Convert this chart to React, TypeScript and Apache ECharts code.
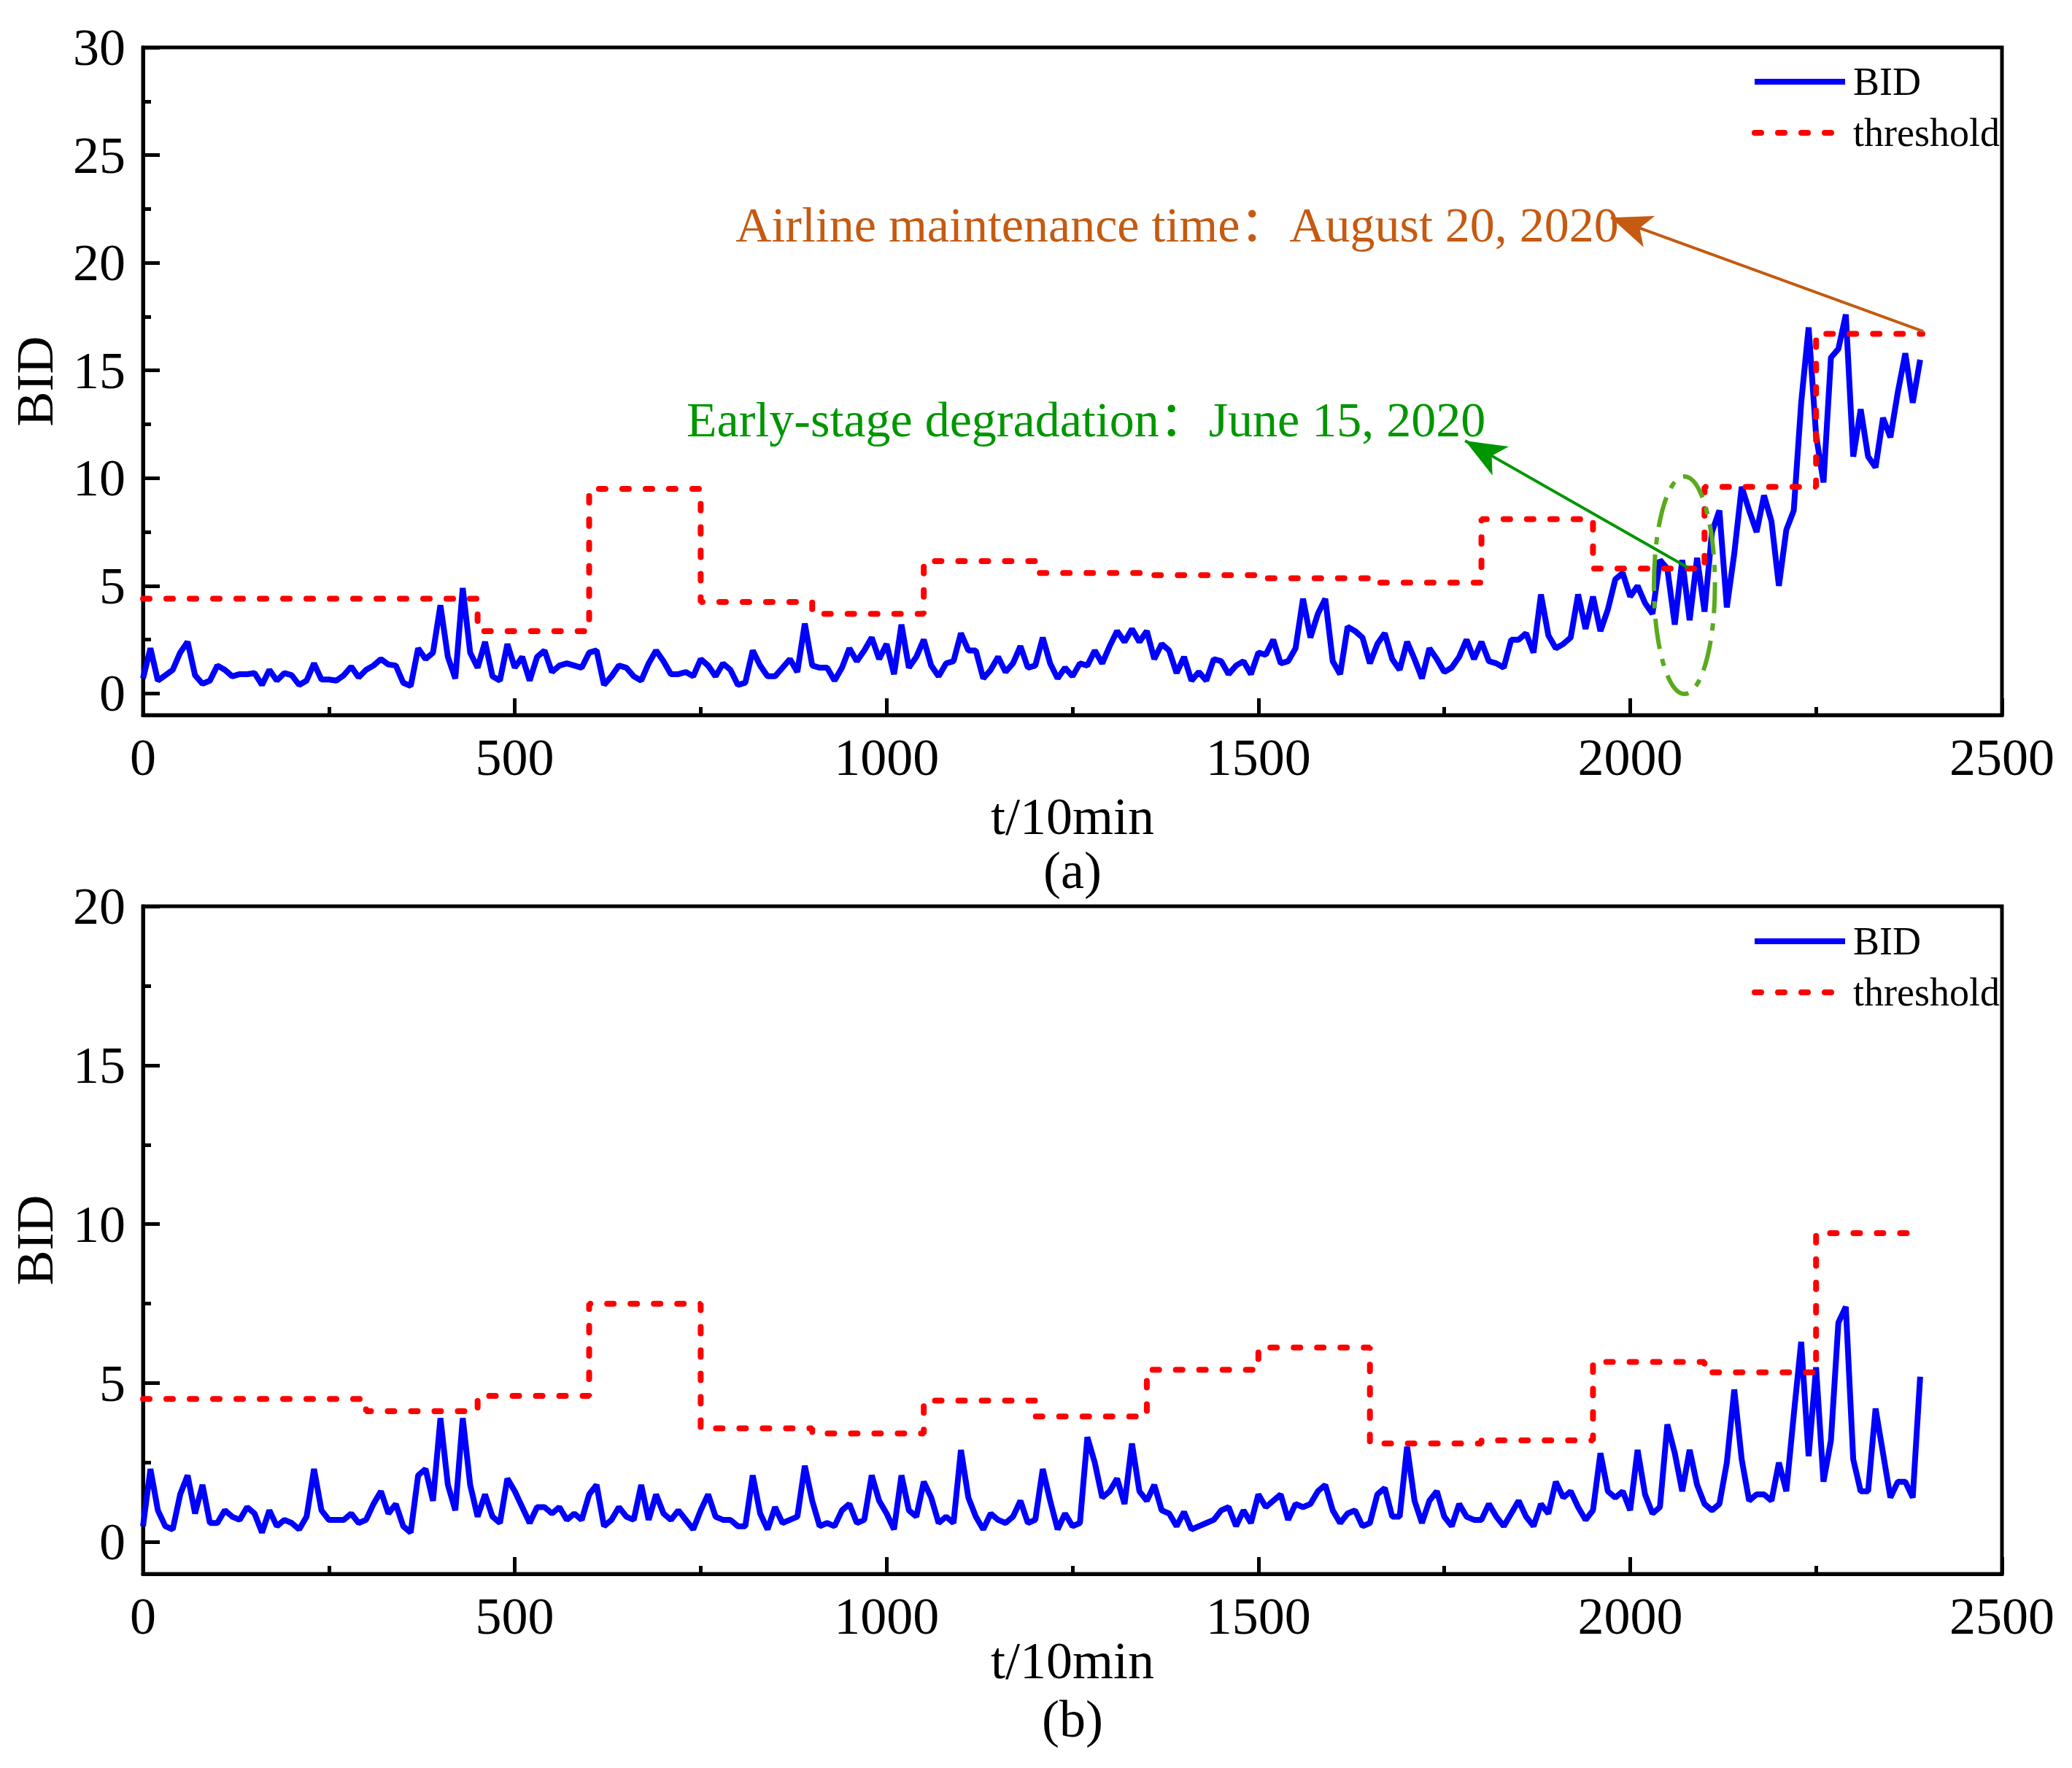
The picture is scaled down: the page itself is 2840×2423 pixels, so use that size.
import React, { useEffect, useRef } from 'react';
import * as echarts from 'echarts';

const FONT = '"Liberation Serif", "Times New Roman", "Noto Sans CJK SC", serif';

// samples every 10 min-steps, starting at t = 0
const timeStep = 10;

const bidTop = [
  0.7, 2.1, 0.6, 0.85, 1.1, 1.9, 2.4, 0.85, 0.45, 0.6,
  1.3, 1.1, 0.8, 0.9, 0.9, 0.95, 0.4, 1.1, 0.6, 0.95,
  0.85, 0.4, 0.6, 1.4, 0.65, 0.65, 0.6, 0.85, 1.25, 0.75,
  1.1, 1.3, 1.6, 1.35, 1.3, 0.5, 0.35, 2.1, 1.6, 1.9,
  4.1, 1.7, 0.7, 4.9, 1.9, 1.2, 2.4, 0.8, 0.6, 2.3,
  1.2, 1.7, 0.6, 1.7, 2.0, 1.0, 1.3, 1.4, 1.3, 1.2,
  1.9, 2.0, 0.4, 0.8, 1.3, 1.2, 0.8, 0.6, 1.4, 2.0,
  1.5, 0.9, 0.9, 1.0, 0.8, 1.6, 1.3, 0.8, 1.4, 1.1,
  0.4, 0.5, 2.0, 1.3, 0.8, 0.8, 1.2, 1.6, 1.0, 3.25,
  1.3, 1.2, 1.2, 0.6, 1.2, 2.1, 1.5, 2.0, 2.6, 1.6,
  2.3, 0.9, 3.2, 1.2, 1.7, 2.5, 1.3, 0.8, 1.4, 1.5,
  2.8, 2.0, 2.0, 0.7, 1.1, 1.7, 1.0, 1.4, 2.2, 1.2,
  1.3, 2.6, 1.4, 0.7, 1.2, 0.8, 1.4, 1.3, 2.0, 1.4,
  2.2, 2.9, 2.4, 3.0, 2.4, 2.9, 1.6, 2.3, 2.0, 0.95,
  1.7, 0.6, 1.0, 0.6, 1.6, 1.5, 0.9, 1.3, 1.5, 0.9,
  1.9, 1.8, 2.5, 1.4, 1.5, 2.1, 4.4, 2.6, 3.7, 4.4,
  1.5, 0.9, 3.1, 2.9, 2.6, 1.4, 2.3, 2.8, 1.6, 1.1,
  2.4, 1.6, 0.7, 2.1, 1.6, 1.0, 1.2, 1.7, 2.5, 1.6,
  2.4, 1.5, 1.4, 1.2, 2.5, 2.5, 2.8, 1.9, 4.6, 2.7,
  2.1, 2.3, 2.6, 4.6, 3.0, 4.5, 2.9, 3.9, 5.3, 5.6,
  4.5, 5.0, 4.2, 3.7, 6.2, 5.8, 3.2, 6.2, 3.4, 6.3,
  3.8, 7.5, 8.5, 4.0, 6.5, 9.6, 8.5, 7.5, 9.2, 8.0,
  5.0, 7.6, 8.5, 13.5, 17.0, 12.0, 9.8, 15.6, 16.0, 17.6,
  11.0, 13.2, 11.0, 10.5, 12.8, 11.9, 14.0, 15.8, 13.5, 15.5,
];

const bidBottom = [
  0.5, 2.3, 1.0, 0.5, 0.4, 1.5, 2.1, 0.9, 1.8, 0.6,
  0.6, 1.0, 0.8, 0.7, 1.1, 0.9, 0.3, 1.0, 0.5, 0.7,
  0.6, 0.4, 0.8, 2.3, 1.0, 0.7, 0.7, 0.7, 0.9, 0.6,
  0.7, 1.2, 1.6, 0.9, 1.2, 0.5, 0.3, 2.1, 2.3, 1.3,
  3.9, 1.8, 1.0, 3.9, 1.8, 0.8, 1.5, 0.8, 0.6, 2.0,
  1.6, 1.1, 0.6, 1.1, 1.1, 0.9, 1.1, 0.7, 0.9, 0.7,
  1.5, 1.8, 0.5, 0.7, 1.1, 0.8, 0.7, 1.8, 0.7, 1.5,
  0.9, 0.7, 1.0, 0.7, 0.4, 1.0, 1.5, 0.8, 0.7, 0.7,
  0.5, 0.5, 2.1, 0.9, 0.4, 1.1, 0.6, 0.7, 0.8, 2.4,
  1.3, 0.5, 0.6, 0.5, 1.0, 1.2, 0.6, 0.7, 2.1, 1.3,
  0.9, 0.4, 2.1, 1.0, 0.8, 1.9, 1.4, 0.6, 0.8, 0.6,
  2.9, 1.4, 0.8, 0.4, 0.9, 0.7, 0.6, 0.8, 1.3, 0.6,
  0.7, 2.3, 1.3, 0.4, 0.9, 0.5, 0.6, 3.3, 2.5, 1.4,
  1.6, 2.0, 1.2, 3.1, 1.6, 1.3, 1.8, 1.0, 0.9, 0.5,
  0.95, 0.4, 0.5, 0.6, 0.7, 1.0, 1.1, 0.5, 1.0, 0.6,
  1.5, 1.1, 1.3, 1.5, 0.7, 1.2, 1.1, 1.2, 1.6, 1.8,
  1.0, 0.6, 0.9, 1.0, 0.5, 0.6, 1.5, 1.7, 0.8, 0.8,
  3.0, 1.3, 0.6, 1.3, 1.6, 0.8, 0.5, 1.2, 0.8, 0.7,
  0.7, 1.2, 0.8, 0.5, 0.9, 1.3, 0.8, 0.5, 1.2, 0.9,
  1.9, 1.4, 1.6, 1.1, 0.7, 1.0, 2.8, 1.6, 1.4, 1.6,
  1.0, 2.9, 1.5, 0.9, 1.1, 3.7, 2.8, 1.6, 2.9, 1.8,
  1.2, 1.0, 1.2, 2.5, 4.8, 2.6, 1.3, 1.5, 1.5, 1.3,
  2.5, 1.6, 4.0, 6.3, 2.7, 5.5, 1.9, 3.2, 6.9, 7.4,
  2.6, 1.6, 1.6, 4.2, 2.8, 1.4, 1.9, 1.9, 1.4, 5.2,
];

// threshold is piecewise constant: level i holds from breaks[i] to breaks[i + 1]
const thrTopBreaks = [0, 450, 600, 750, 900, 1050, 1200, 1350, 1500, 1650, 1800, 1950, 2100, 2250, 2393];
const thrTopLevels = [4.4, 2.9, 9.5, 4.25, 3.7, 6.15, 5.6, 5.5, 5.35, 5.15, 8.1, 5.8, 9.6, 16.7];
const thrBottomBreaks = [0, 300, 450, 600, 750, 900, 1050, 1200, 1350, 1500, 1650, 1800, 1950, 2100, 2250, 2380];
const thrBottomLevels = [4.5, 4.12, 4.6, 7.5, 3.58, 3.42, 4.45, 3.95, 5.42, 6.12, 3.1, 3.2, 5.67, 5.34, 9.72];

const yTopTicks = [0, 5, 10, 15, 20, 25, 30];
const yTopMinor = [2.5, 7.5, 12.5, 17.5, 22.5, 27.5];
const yBottomTicks = [0, 5, 10, 15, 20];
const yBottomMinor = [2.5, 7.5, 12.5, 17.5];

const toPoints = (vals: number[]) => vals.map((v, i) => [i * timeStep, v]);
const toSteps = (breaks: number[], levels: number[]) =>
  levels.flatMap((lv, i) => [[breaks[i], lv], [breaks[i + 1], lv]]);

const BLACK = '#000';
const ORANGE = '#C55A11';
const GREEN = '#009600';
const ELLIPSE_GREEN = '#5AAA1E';
const AXIS_W = 5;

const xAxisBase = (gridIndex: number, nameGap: number) => ({
  gridIndex,
  type: 'value',
  min: 0,
  max: 2500,
  interval: 500,
  name: 't/10min',
  nameLocation: 'middle',
  nameGap,
  nameMoveOverlap: false,
  nameTextStyle: { fontFamily: FONT, fontSize: 72, color: BLACK },
  axisLine: { show: true, onZero: false, lineStyle: { color: BLACK, width: AXIS_W } },
  axisTick: { show: true, inside: true, length: 23, lineStyle: { color: BLACK, width: AXIS_W } },
  minorTick: { show: true, splitNumber: 2, length: 11, lineStyle: { color: BLACK, width: AXIS_W } },
  axisLabel: { margin: 22, fontFamily: FONT, fontSize: 72, color: BLACK, formatter: (v: number) => String(v) },
  splitLine: { show: false },
});

const yAxisMain = (gridIndex: number, max: number, ticks: number[]) => ({
  gridIndex,
  type: 'value',
  min: -1,
  max,
  name: 'BID',
  nameLocation: 'middle',
  nameGap: 112,
  nameMoveOverlap: false,
  nameTextStyle: { fontFamily: FONT, fontSize: 72, color: BLACK },
  axisLine: { show: true, onZero: false, lineStyle: { color: BLACK, width: AXIS_W } },
  axisTick: { show: true, inside: true, length: 23, customValues: ticks, lineStyle: { color: BLACK, width: AXIS_W } },
  axisLabel: { customValues: ticks, margin: 24, fontFamily: FONT, fontSize: 72, color: BLACK },
  splitLine: { show: false },
});

const yAxisMinor = (gridIndex: number, max: number, ticks: number[]) => ({
  gridIndex,
  type: 'value',
  min: -1,
  max,
  position: 'left',
  axisLine: { show: false },
  axisTick: { show: true, inside: true, length: 11, customValues: ticks, lineStyle: { color: BLACK, width: AXIS_W } },
  axisLabel: { show: false },
  splitLine: { show: false },
});

const legendBase = (top: number) => ({
  orient: 'vertical',
  left: 2396,
  top,
  itemWidth: 124,
  itemHeight: 2,
  itemGap: 12,
  data: ['BID', 'threshold'],
  itemStyle: { opacity: 0 },
  lineStyle: { width: 8 },
  textStyle: { fontFamily: FONT, fontSize: 54, color: BLACK, lineHeight: 58, padding: [0, 0, 0, 6] },
});

const App: React.FC = () => {
  const chartRef = useRef<HTMLDivElement>(null);

  useEffect(() => {
    if (!chartRef.current) return;
    const chart = echarts.init(chartRef.current, null, { renderer: 'svg' });

    const bidStyle = () => ({ color: '#0000FF', width: 8 });
    const thrStyle = () => ({ color: '#FF0000', width: 8, type: [9, 23], cap: 'round' });

    const option = {
      animation: false,
      backgroundColor: '#fff',
      grid: [
        { left: 196, top: 65, width: 2548, height: 915, show: true, borderColor: BLACK, borderWidth: AXIS_W },
        { left: 196, top: 1242, width: 2548, height: 915, show: true, borderColor: BLACK, borderWidth: AXIS_W },
      ],
      legend: [legendBase(78), legendBase(1256)],
      xAxis: [xAxisBase(0, 103), xAxisBase(1, 83)],
      yAxis: [
        yAxisMain(0, 30, yTopTicks),
        yAxisMinor(0, 30, yTopMinor),
        yAxisMain(1, 20, yBottomTicks),
        yAxisMinor(1, 20, yBottomMinor),
      ],
      series: [
        {
          name: 'BID', type: 'line', xAxisIndex: 0, yAxisIndex: 0,
          data: toPoints(bidTop), showSymbol: false, symbol: 'none', lineStyle: bidStyle(), itemStyle: { color: '#0000FF' },
        },
        {
          name: 'threshold', type: 'line', xAxisIndex: 0, yAxisIndex: 0,
          data: toSteps(thrTopBreaks, thrTopLevels), showSymbol: false, symbol: 'none',
          lineStyle: thrStyle(), itemStyle: { color: '#FF0000' },
          markLine: {
            silent: true,
            symbol: ['none', 'arrow'],
            symbolSize: [34, 56],
            label: { show: false },
            data: [
              [
                { coord: [2394, 16.82], lineStyle: { color: ORANGE, width: 4, type: 'solid' }, itemStyle: { color: ORANGE } },
                { coord: [1974, 22.1], lineStyle: { color: ORANGE, width: 4, type: 'solid' }, itemStyle: { color: ORANGE } },
              ],
              [
                { coord: [2078, 5.84], lineStyle: { color: GREEN, width: 4, type: 'solid' }, itemStyle: { color: GREEN } },
                { coord: [1778, 11.74], lineStyle: { color: GREEN, width: 4, type: 'solid' }, itemStyle: { color: GREEN } },
              ],
            ],
          },
        },
        {
          name: 'BID', type: 'line', xAxisIndex: 1, yAxisIndex: 2,
          data: toPoints(bidBottom), showSymbol: false, symbol: 'none', lineStyle: bidStyle(), itemStyle: { color: '#0000FF' },
        },
        {
          name: 'threshold', type: 'line', xAxisIndex: 1, yAxisIndex: 2,
          data: toSteps(thrBottomBreaks, thrBottomLevels), showSymbol: false, symbol: 'none',
          lineStyle: thrStyle(), itemStyle: { color: '#FF0000' },
        },
      ],
    };

    chart.setOption(option as any);

    // annotations positioned from data coordinates
    const top = (p: number[]) => chart.convertToPixel({ xAxisIndex: 0, yAxisIndex: 0 }, p) as number[];
    const orangePos = top([797, 21.76]);
    const greenPos = top([731, 12.72]);
    const ellC = top([2073, 5.03]);
    const ellEdge = top([2073 + 41, 5.03 + 5.05]);
    const midX = top([1250, 0])[0];

    chart.setOption({
      graphic: [
        {
          type: 'text', z: 100, x: orangePos[0], y: orangePos[1],
          style: {
            text: 'Airline maintenance time：August 20, 2020', fill: ORANGE,
            font: `68px ${FONT}`, align: 'left', verticalAlign: 'middle',
          },
        },
        {
          type: 'text', z: 100, x: greenPos[0], y: greenPos[1],
          style: {
            text: 'Early-stage degradation：June 15, 2020', fill: GREEN,
            font: `68px ${FONT}`, align: 'left', verticalAlign: 'middle',
          },
        },
        {
          type: 'ellipse', z: 100, x: ellC[0], y: ellC[1],
          shape: { cx: 0, cy: 0, rx: Math.abs(ellEdge[0] - ellC[0]), ry: Math.abs(ellC[1] - ellEdge[1]) },
          style: { fill: 'none', stroke: ELLIPSE_GREEN, lineWidth: 6, lineDash: [42, 14, 10, 14] },
        },
        {
          type: 'text', z: 100, x: midX, y: 1193,
          style: { text: '(a)', fill: BLACK, font: `72px ${FONT}`, align: 'center', verticalAlign: 'middle' },
        },
        {
          type: 'text', z: 100, x: midX, y: 2356,
          style: { text: '(b)', fill: BLACK, font: `72px ${FONT}`, align: 'center', verticalAlign: 'middle' },
        },
      ],
    });

    return () => {
      chart.dispose();
    };
  }, []);

  return (
    <div
      ref={chartRef}
      style={{ position: 'absolute', left: 0, top: 0, width: '2840px', height: '2423px' }}
    />
  );
};

export default App;
